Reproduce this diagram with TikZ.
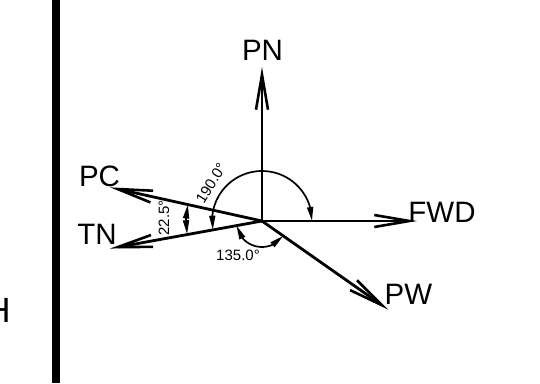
\documentclass[tikz,border=0pt]{standalone}
\usepackage{fontspec}
\setmainfont{Liberation Sans}
\usetikzlibrary{arrows.meta,bending}
\tikzset{
  x=1pt,y=1pt,
  vector/.style={line width=2.8pt,shorten >=-3pt,-{Straight Barb[length=35pt,width=12pt,line width=2.6pt]}},
  dimarc/.style={line width=1.7pt,{Stealth[length=14pt,width=6pt,inset=0pt,flex=1]}-{Stealth[length=14pt,width=6pt,inset=0pt,flex=1]}},
  biglabel/.style={inner sep=0pt,font=\fontsize{29.5}{29.5}\selectfont},
  smalllabel/.style={inner sep=0pt,font=\fontsize{15}{15}\selectfont},
  wall/.style={line width=8pt}
}
\begin{document}
\begin{tikzpicture}
\useasboundingbox (0,0) rectangle (540,383);
\coordinate (wallTop) at (56,383);
\coordinate (wallBottom) at (56,0);
\draw[wall] (wallTop) -- (wallBottom);
\coordinate (O) at (262,162);
\coordinate (tipPN) at (262,313);
\coordinate (tipFWD) at (414,162);
\coordinate (tipPW) at (386,75);
\coordinate (tipPC) at (113,195);
\coordinate (tipTN) at (113,135);
\draw[vector] (O) -- (tipPN);
\draw[vector] (O) -- (tipFWD);
\draw[vector] (O) -- (tipPW);
\draw[vector] (O) -- (tipPC);
\draw[vector] (O) -- (tipTN);
\draw[dimarc] (O) ++(0:50) arc[start angle=0,end angle=190,radius=50];
\draw[dimarc] (O) ++(167.5:76) arc[start angle=167.5,end angle=190,radius=76];
\draw[dimarc] (O) ++(190:26) arc[start angle=190,end angle=325,radius=26];
\node[biglabel] (lPN) at (262.5,333) {PN};
\node[biglabel] (lPC) at (99.5,207) {PC};
\node[biglabel] (lTN) at (97,149) {TN};
\node[biglabel] (lFWD) at (442,170.5) {FWD};
\node[biglabel] (lPW) at (408.5,89) {PW};
\node[smalllabel] (l135) at (238,127.5) {135.0°};
\node[smalllabel,rotate=58] (l190) at (211,200) {190.0°};
\node[smalllabel,rotate=90] (l225) at (164,165) {22.5°};
\node[inner sep=0pt,font=\fontsize{35}{35}\selectfont] (lH) at (-2,72.5) {H};
\end{tikzpicture}
\end{document}
